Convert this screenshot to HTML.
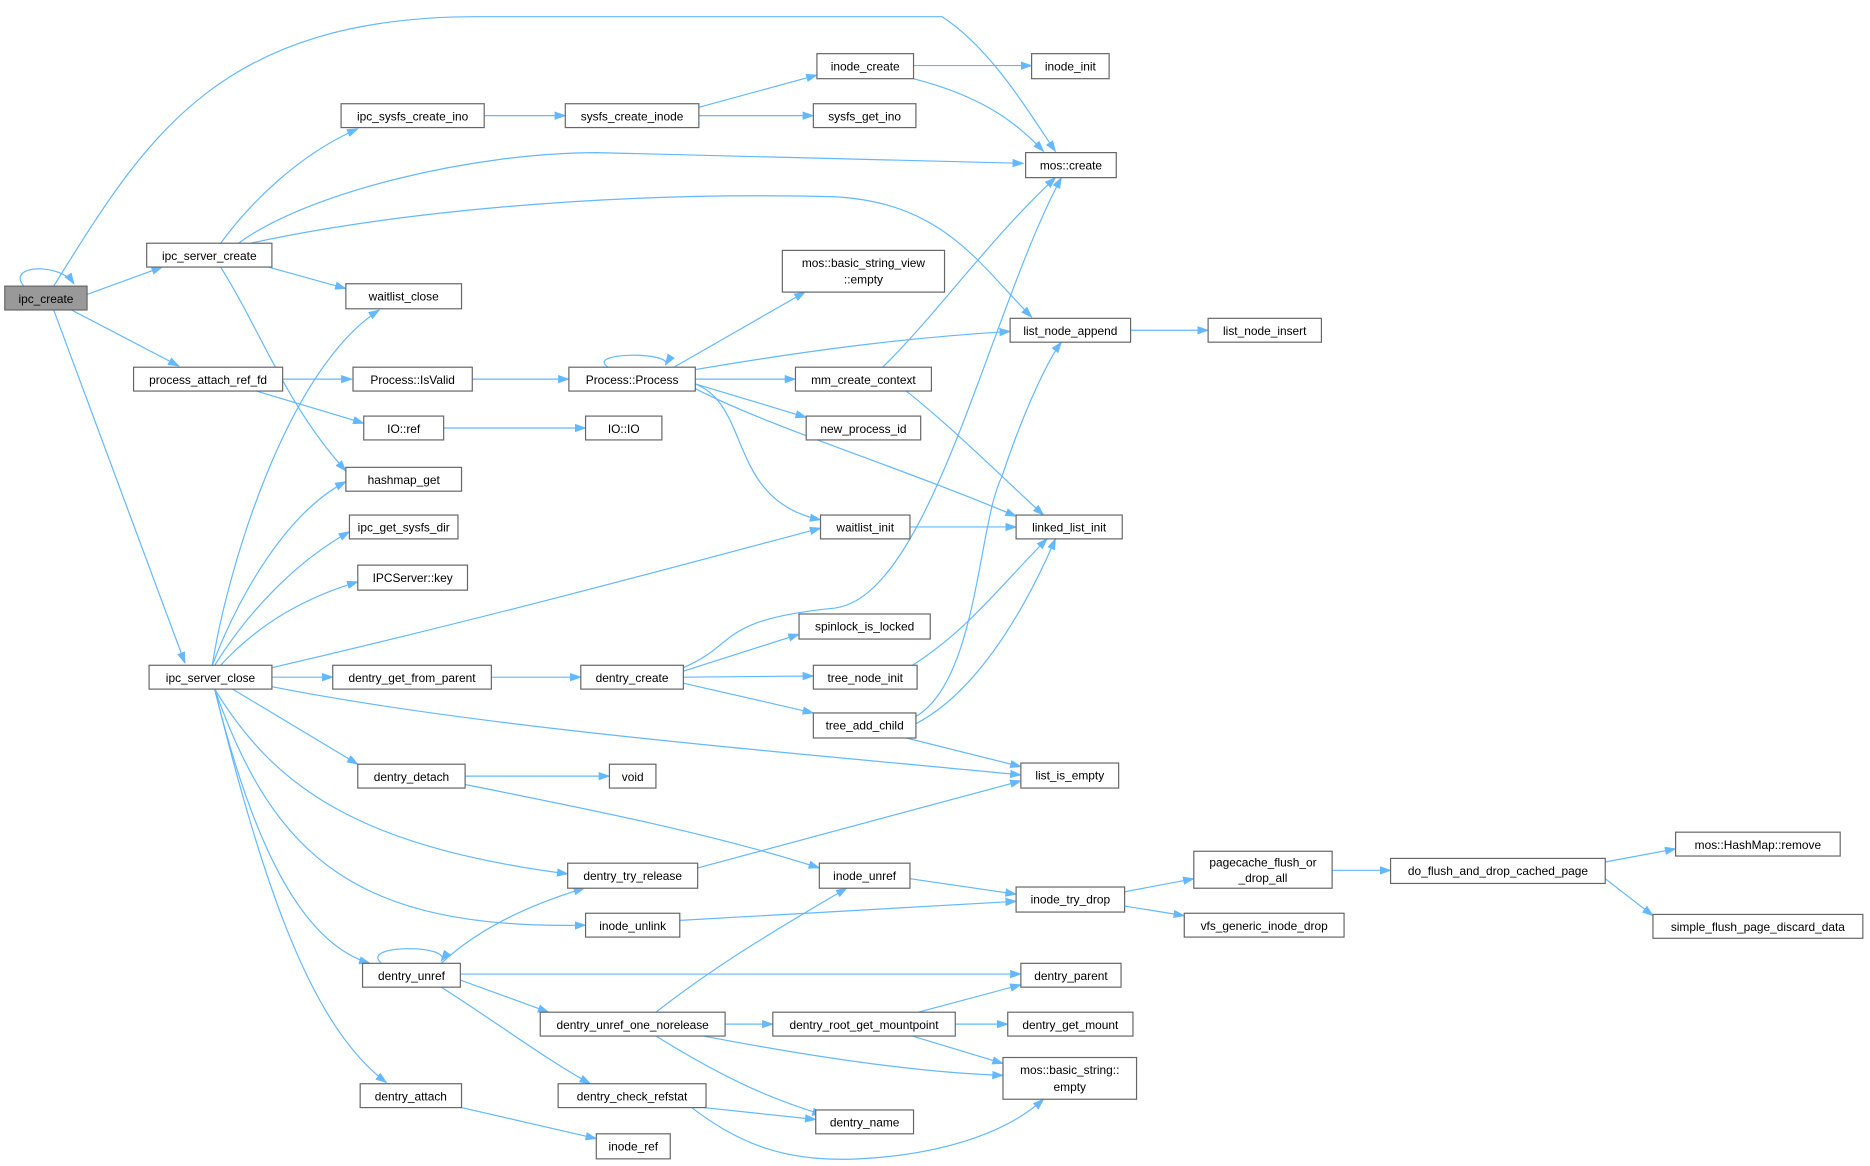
<!DOCTYPE html>
<html><head><meta charset="utf-8"><style>
html,body{margin:0;padding:0;background:#fff;}
svg{display:block}
text{font-family:"Liberation Sans",Arial,sans-serif;font-size:10px;fill:#000;text-anchor:middle}
.n{fill:#fff;stroke:#666;stroke-width:1}
.e{fill:none;stroke:#63b8ff;stroke-width:1}
</style></head><body>
<svg width="1870" height="1166" viewBox="0 0 1568 978" preserveAspectRatio="none" xmlns="http://www.w3.org/2000/svg">
<defs><marker id="a" markerWidth="10" markerHeight="8" refX="9" refY="4" orient="auto" markerUnits="userSpaceOnUse"><path d="M0,0.5 L10,4 L0,7.5z" fill="#63b8ff"/></marker></defs>
<g class="e" marker-end="url(#a)">
<path d="M20,240 C5,222 50,220 62,238"/>
<path d="M45,240 C120,120 180,14 400,14 L790,14 C830,40 860,90 885,127"/>
<path d="M73,247 L136,224"/>
<path d="M60,260 L150,307"/>
<path d="M45,260 L155,556"/>
<path d="M185,204 C210,170 250,130 300,108"/>
<path d="M200,204 C260,160 400,128 500,128 L858,137"/>
<path d="M210,204 C320,180 500,160 700,165 C790,170 820,220 865,266"/>
<path d="M225,224 L290,242"/>
<path d="M185,224 C220,280 240,340 290,395"/>
<path d="M200,318 L295,318"/>
<path d="M215,328 L305,355"/>
<path d="M178,558 C190,480 240,310 318,260"/>
<path d="M178,558 C200,500 240,430 290,404"/>
<path d="M180,558 C210,510 250,470 293,446"/>
<path d="M185,558 C220,520 260,500 300,488"/>
<path d="M228,560 C400,520 550,480 688,443"/>
<path d="M228,568 L279,568"/>
<path d="M228,576 C400,610 650,630 856,650"/>
<path d="M195,578 L300,641"/>
<path d="M180,578 C230,660 300,710 476,733"/>
<path d="M180,578 C230,720 300,780 491,776"/>
<path d="M180,578 C210,700 250,790 310,808"/>
<path d="M180,578 C220,740 260,860 324,908"/>
<path d="M406,97 L474,97"/>
<path d="M586,90 L685,63"/>
<path d="M586,97 L682,97"/>
<path d="M766,55 L865,55"/>
<path d="M766,66 C820,80 850,100 875,127"/>
<path d="M396,318 L477,318"/>
<path d="M372,359 L491,359"/>
<path d="M510,308 C490,295 565,295 558,306"/>
<path d="M565,308 L675,245"/>
<path d="M583,310 C700,290 780,282 847,278"/>
<path d="M583,318 L667,318"/>
<path d="M583,322 L676,350"/>
<path d="M583,322 C630,340 610,420 688,436"/>
<path d="M583,326 C650,360 750,390 852,433"/>
<path d="M740,308 C780,270 830,200 885,149"/>
<path d="M760,328 C800,360 840,400 875,432"/>
<path d="M763,442 L852,442"/>
<path d="M948,277 L1013,277"/>
<path d="M412,568 L487,568"/>
<path d="M573,560 C620,540 600,520 700,510 C780,500 830,260 890,149"/>
<path d="M573,563 L670,532"/>
<path d="M573,568 L682,567"/>
<path d="M573,573 L682,598"/>
<path d="M765,558 C810,530 840,490 878,452"/>
<path d="M768,601 C820,570 820,440 840,400 C860,340 880,300 890,287"/>
<path d="M768,607 C820,580 860,510 885,452"/>
<path d="M760,619 L856,643"/>
<path d="M390,651 L511,651"/>
<path d="M390,658 C500,680 600,700 687,728"/>
<path d="M585,728 L856,655"/>
<path d="M763,737 L852,750"/>
<path d="M570,772 L852,756"/>
<path d="M943,748 L1001,737"/>
<path d="M943,760 L993,768"/>
<path d="M1117,730 L1166,730"/>
<path d="M1346,723 L1405,712"/>
<path d="M1346,737 L1386,768"/>
<path d="M320,808 C300,792 380,792 370,806"/>
<path d="M370,808 C400,780 440,760 490,745"/>
<path d="M386,817 L856,817"/>
<path d="M386,822 L460,849"/>
<path d="M370,828 C420,860 460,890 495,909"/>
<path d="M550,849 C600,810 650,780 710,745"/>
<path d="M608,859 L648,859"/>
<path d="M590,869 C700,890 780,900 841,902"/>
<path d="M550,869 C600,900 640,920 690,935"/>
<path d="M770,849 L856,826"/>
<path d="M801,859 L845,859"/>
<path d="M765,869 L841,892"/>
<path d="M590,929 L684,939"/>
<path d="M580,929 C620,960 660,975 720,972 C800,968 850,945 875,922"/>
<path d="M387,929 L500,955"/>
</g>
<g>
<rect x="4" y="240" width="69" height="20" fill="#999" stroke="#666"/><text x="38.5" y="254">ipc_create</text>
<rect class="n" x="123" y="204" width="105" height="20"/><text x="175.5" y="218">ipc_server_create</text>
<rect class="n" x="112" y="308" width="125" height="20"/><text x="174.5" y="322">process_attach_ref_fd</text>
<rect class="n" x="125" y="558" width="103" height="20"/><text x="176.5" y="572">ipc_server_close</text>
<rect class="n" x="286" y="87" width="120" height="20"/><text x="346" y="101">ipc_sysfs_create_ino</text>
<rect class="n" x="290" y="238" width="97" height="21"/><text x="338.5" y="252">waitlist_close</text>
<rect class="n" x="290" y="392" width="97" height="20"/><text x="338.5" y="406">hashmap_get</text>
<rect class="n" x="293" y="432" width="91" height="20"/><text x="338.5" y="446">ipc_get_sysfs_dir</text>
<rect class="n" x="300" y="474" width="92" height="21"/><text x="346" y="488">IPCServer::key</text>
<rect class="n" x="296" y="308" width="100" height="20"/><text x="346" y="322">Process::IsValid</text>
<rect class="n" x="305" y="349" width="67" height="20"/><text x="338.5" y="363">IO::ref</text>
<rect class="n" x="279" y="558" width="133" height="20"/><text x="345.5" y="572">dentry_get_from_parent</text>
<rect class="n" x="300" y="641" width="90" height="20"/><text x="345" y="655">dentry_detach</text>
<rect class="n" x="304" y="808" width="82" height="20"/><text x="345" y="822">dentry_unref</text>
<rect class="n" x="302" y="909" width="85" height="20"/><text x="344.5" y="923">dentry_attach</text>
<rect class="n" x="474" y="87" width="112" height="20"/><text x="530" y="101">sysfs_create_inode</text>
<rect class="n" x="477" y="308" width="106" height="20"/><text x="530" y="322">Process::Process</text>
<rect class="n" x="491" y="349" width="64" height="20"/><text x="523" y="363">IO::IO</text>
<rect class="n" x="487" y="558" width="86" height="20"/><text x="530" y="572">dentry_create</text>
<rect class="n" x="511" y="641" width="39" height="20"/><text x="530.5" y="655">void</text>
<rect class="n" x="476" y="724" width="109" height="21"/><text x="530.5" y="738">dentry_try_release</text>
<rect class="n" x="491" y="766" width="79" height="20"/><text x="530.5" y="780">inode_unlink</text>
<rect class="n" x="453" y="849" width="155" height="20"/><text x="530.5" y="863">dentry_unref_one_norelease</text>
<rect class="n" x="468" y="909" width="124" height="20"/><text x="530" y="923">dentry_check_refstat</text>
<rect class="n" x="500" y="951" width="62" height="21"/><text x="531" y="965">inode_ref</text>
<rect class="n" x="685" y="45" width="81" height="21"/><text x="725.5" y="59">inode_create</text>
<rect class="n" x="682" y="87" width="86" height="20"/><text x="725" y="101">sysfs_get_ino</text>
<rect class="n" x="656" y="210" width="136" height="35"/><text x="724" y="224">mos::basic_string_view</text><text x="724" y="238">::empty</text>
<rect class="n" x="667" y="308" width="114" height="20"/><text x="724" y="322">mm_create_context</text>
<rect class="n" x="676" y="349" width="96" height="20"/><text x="724" y="363">new_process_id</text>
<rect class="n" x="688" y="432" width="75" height="20"/><text x="725.5" y="446">waitlist_init</text>
<rect class="n" x="670" y="515" width="110" height="21"/><text x="725" y="529">spinlock_is_locked</text>
<rect class="n" x="682" y="558" width="87" height="20"/><text x="725.5" y="572">tree_node_init</text>
<rect class="n" x="682" y="598" width="86" height="21"/><text x="725" y="612">tree_add_child</text>
<rect class="n" x="687" y="724" width="76" height="21"/><text x="725" y="738">inode_unref</text>
<rect class="n" x="648" y="849" width="153" height="20"/><text x="724.5" y="863">dentry_root_get_mountpoint</text>
<rect class="n" x="684" y="931" width="82" height="20"/><text x="725" y="945">dentry_name</text>
<rect class="n" x="865" y="45" width="65" height="21"/><text x="897.5" y="59">inode_init</text>
<rect class="n" x="860" y="128" width="76" height="21"/><text x="898" y="142">mos::create</text>
<rect class="n" x="847" y="267" width="101" height="20"/><text x="897.5" y="281">list_node_append</text>
<rect class="n" x="852" y="432" width="89" height="20"/><text x="896.5" y="446">linked_list_init</text>
<rect class="n" x="856" y="640" width="82" height="21"/><text x="897" y="654">list_is_empty</text>
<rect class="n" x="852" y="744" width="91" height="21"/><text x="897.5" y="758">inode_try_drop</text>
<rect class="n" x="856" y="808" width="84" height="20"/><text x="898" y="822">dentry_parent</text>
<rect class="n" x="845" y="849" width="105" height="20"/><text x="897.5" y="863">dentry_get_mount</text>
<rect class="n" x="841" y="887" width="112" height="35"/><text x="897" y="901">mos::basic_string::</text><text x="897" y="915">empty</text>
<rect class="n" x="1013" y="267" width="95" height="20"/><text x="1060.5" y="281">list_node_insert</text>
<rect class="n" x="1001" y="714" width="116" height="31"/><text x="1059" y="727">pagecache_flush_or</text><text x="1059" y="740">_drop_all</text>
<rect class="n" x="993" y="766" width="134" height="20"/><text x="1060" y="780">vfs_generic_inode_drop</text>
<rect class="n" x="1166" y="720" width="180" height="21"/><text x="1256" y="734">do_flush_and_drop_cached_page</text>
<rect class="n" x="1405" y="698" width="138" height="20"/><text x="1474" y="712">mos::HashMap::remove</text>
<rect class="n" x="1386" y="767" width="176" height="20"/><text x="1474" y="781">simple_flush_page_discard_data</text>
</g>
</svg>
</body></html>
